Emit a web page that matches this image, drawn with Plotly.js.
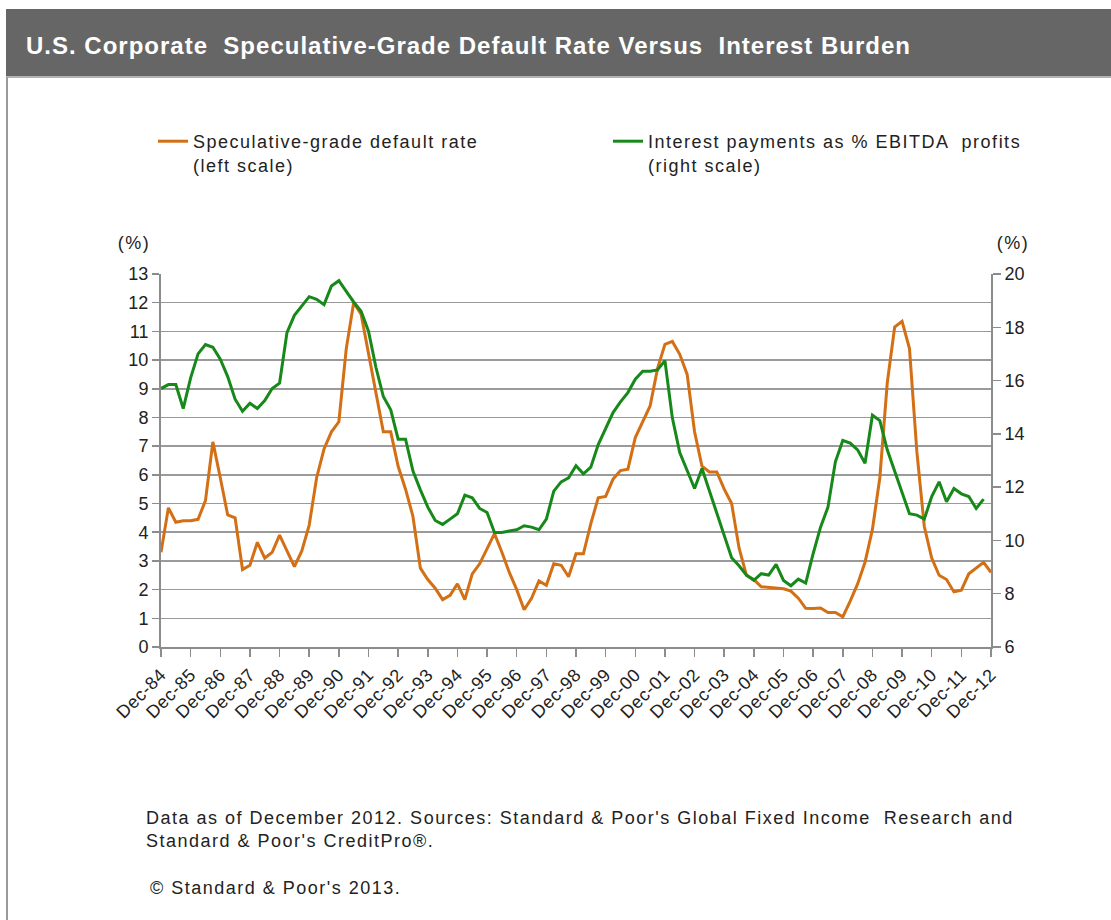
<!DOCTYPE html>
<html>
<head>
<meta charset="utf-8">
<script src="https://cdn.plot.ly/plotly-3.0.1.min.js"></script>
<style>
  html, body { margin: 0; padding: 0; background: #fff; }
  #plot { width: 1111px; height: 920px; }
  /* the source chart is set with loose letter spacing */
  #plot .legendtext, #plot .annotation-text { letter-spacing: 1.5px; }
  #plot .annotation[data-index="0"] .annotation-text { letter-spacing: 1px; }
  #plot .xtick text { letter-spacing: 0.6px; }
</style>
</head>
<body>
<div id="plot"></div>
<script>
  // quarterly observations, Dec-84 .. Dec-12
  const years = ['84','85','86','87','88','89','90','91','92','93','94','95','96','97','98',
                 '99','00','01','02','03','04','05','06','07','08','09','10','11','12'];
  const months = ['Mar', 'Jun', 'Sep', 'Dec'];

  // speculative-grade default rate, % (left scale)
  const defaultRate = [
    3.3, 4.85, 4.35, 4.4, 4.4, 4.45, 5.1, 7.15, 5.9, 4.6,
    4.5, 2.7, 2.85, 3.65, 3.1, 3.3, 3.9, 3.35, 2.8, 3.35,
    4.25, 5.9, 6.9, 7.5, 7.85, 10.4, 12.0, 11.6, 10.2, 8.8,
    7.5, 7.5, 6.3, 5.5, 4.55, 2.75, 2.35, 2.05, 1.65, 1.8,
    2.2, 1.65, 2.55, 2.9, 3.45, 3.95, 3.3, 2.6, 2.0, 1.3,
    1.7, 2.3, 2.15, 2.9, 2.85, 2.45, 3.25, 3.25, 4.3, 5.2,
    5.25, 5.85, 6.15, 6.2, 7.3, 7.85, 8.4, 9.7, 10.55, 10.65,
    10.2, 9.5, 7.5, 6.3, 6.1, 6.1, 5.5, 5.0, 3.45, 2.5,
    2.35, 2.1, 2.07, 2.05, 2.03, 1.95, 1.7, 1.35, 1.34, 1.36,
    1.2, 1.2, 1.05, 1.6, 2.2, 2.95, 4.1, 5.9, 9.2, 11.15,
    11.35, 10.4, 6.8, 4.2, 3.1, 2.5, 2.35, 1.92, 1.98, 2.55,
    2.75, 2.95, 2.6
  ];

  // interest payments as % of EBITDA profits (right scale)
  const interestBurden = [
    15.7, 15.85, 15.85, 14.95, 16.1, 17.0, 17.35, 17.25, 16.8, 16.15,
    15.3, 14.85, 15.15, 14.95, 15.25, 15.7, 15.9, 17.8, 18.45, 18.8,
    19.15, 19.05, 18.85, 19.55, 19.75, 19.35, 18.95, 18.6, 17.85, 16.5,
    15.4, 14.9, 13.8, 13.8, 12.6, 11.9, 11.25, 10.75, 10.6, 10.8,
    11.0, 11.7, 11.6, 11.2, 11.05, 10.3, 10.3, 10.35, 10.4, 10.55,
    10.5, 10.4, 10.8, 11.85, 12.2, 12.35, 12.8, 12.5, 12.75, 13.6,
    14.2, 14.8, 15.2, 15.55, 16.05, 16.35, 16.35, 16.4, 16.75, 14.6,
    13.3, 12.65, 11.95, 12.7, 11.85, 11.0, 10.15, 9.35, 9.05, 8.7,
    8.5, 8.75, 8.7, 9.1, 8.5, 8.3, 8.55, 8.4, 9.5, 10.5,
    11.25, 12.95, 13.75, 13.65, 13.4, 12.9, 14.7, 14.5, 13.4, 12.6,
    11.75, 11.0, 10.95, 10.8, 11.65, 12.2, 11.45, 11.95, 11.75, 11.65,
    11.2, 11.55
  ];

  const quarters = ['Dec-84'];
  years.slice(1).forEach(function(y) {
    months.forEach(function(m) { quarters.push(m + '-' + y); });
  });
  const tickLabels = years.map(function(y) { return 'Dec-' + y; });

  // plot area in page pixels
  const L = 161, R = 991, T = 274, B = 647;
  const xp = (px) => (px - L) / (R - L);
  const yp = (py) => (B - py) / (B - T);

  const font = 'Liberation Sans, Arial, sans-serif';
  const orange = '#D36F14';
  const green = '#17891A';

  const trace1 = {
    x: quarters,
    y: defaultRate,
    name: 'Speculative-grade default rate<br>(left scale)',
    type: 'scatter',
    mode: 'lines',
    line: {color: orange, width: 3},
    hoverinfo: 'skip'
  };

  const trace2 = {
    x: quarters.slice(0, interestBurden.length),
    y: interestBurden,
    name: 'Interest payments as % EBITDA  profits<br>(right scale)',
    type: 'scatter',
    mode: 'lines',
    yaxis: 'y2',
    line: {color: green, width: 3},
    hoverinfo: 'skip'
  };

  const layout = {
    width: 1111,
    height: 920,
    margin: {l: L, r: 1111 - R, t: T, b: 920 - B},
    paper_bgcolor: '#fff',
    plot_bgcolor: '#fff',
    font: {family: font, size: 18, color: '#222'},
    showlegend: true,
    legend: {
      orientation: 'h',
      x: xp(153), xanchor: 'left',
      y: yp(123), yanchor: 'top',
      valign: 'top',
      entrywidth: 410,
      entrywidthmode: 'pixels',
      font: {family: font, size: 18, color: '#222'},
      bgcolor: 'rgba(0,0,0,0)'
    },
    xaxis: {
      type: 'category',
      range: [0, quarters.length - 1],
      tickmode: 'array',
      tickvals: tickLabels,
      ticktext: tickLabels,
      tickangle: -45,
      ticks: 'outside',
      ticklen: 8,
      tickcolor: '#8c8c8c',
      tickwidth: 1.5,
      showline: true,
      linecolor: '#8c8c8c',
      linewidth: 2,
      showgrid: false,
      zeroline: false,
      automargin: false,
      tickfont: {family: font, size: 18, color: '#222'}
    },
    yaxis: {
      range: [0, 13],
      dtick: 1,
      ticks: 'outside',
      ticklen: 7,
      tickcolor: '#8c8c8c',
      tickwidth: 1.5,
      showline: true,
      linecolor: '#8c8c8c',
      linewidth: 2,
      showgrid: true,
      gridcolor: '#9a9a9a',
      gridwidth: 1.5,
      zeroline: false,
      automargin: false,
      tickfont: {family: font, size: 18, color: '#222'}
    },
    yaxis2: {
      range: [6, 20],
      dtick: 2,
      overlaying: 'y',
      side: 'right',
      ticks: 'outside',
      ticklen: 8,
      tickcolor: '#8c8c8c',
      tickwidth: 1.5,
      showline: true,
      linecolor: '#8c8c8c',
      linewidth: 2,
      showgrid: false,
      zeroline: false,
      automargin: false,
      tickfont: {family: font, size: 18, color: '#222'}
    },
    shapes: [
      // title band
      {type: 'rect', xref: 'paper', yref: 'paper', layer: 'below',
       x0: xp(6), x1: xp(1112), y0: yp(76), y1: yp(9),
       fillcolor: '#666666', line: {width: 0}},
      {type: 'line', xref: 'paper', yref: 'paper',
       x0: xp(6), x1: xp(1112), y0: yp(77), y1: yp(77),
       line: {color: '#b4b4b4', width: 2}},
      // left frame
      {type: 'line', xref: 'paper', yref: 'paper',
       x0: xp(7), x1: xp(7), y0: yp(77), y1: yp(921),
       line: {color: '#9a9a9a', width: 2}}
    ],
    annotations: [
      {text: 'U.S. Corporate  Speculative-Grade Default Rate Versus  Interest Burden',
       xref: 'paper', yref: 'paper', x: xp(24), y: yp(45),
       xanchor: 'left', yanchor: 'middle', align: 'left', showarrow: false,
       font: {family: font, size: 24, color: '#fff', weight: 'bold'}},
      {text: '(%)', xref: 'paper', yref: 'paper', x: xp(134), y: yp(243),
       xanchor: 'center', yanchor: 'middle', showarrow: false},
      {text: '(%)', xref: 'paper', yref: 'paper', x: xp(1013), y: yp(243),
       xanchor: 'center', yanchor: 'middle', showarrow: false},
      {text: 'Data as of December 2012. Sources: Standard &amp; Poor\'s Global Fixed Income  Research and<br>Standard &amp; Poor\'s CreditPro®.',
       xref: 'paper', yref: 'paper', x: xp(144), y: yp(806),
       xanchor: 'left', yanchor: 'top', align: 'left', showarrow: false,
       font: {family: font, size: 18, color: '#222'}},
      {text: '© Standard &amp; Poor\'s 2013.',
       xref: 'paper', yref: 'paper', x: xp(148), y: yp(888),
       xanchor: 'left', yanchor: 'middle', align: 'left', showarrow: false,
       font: {family: font, size: 18, color: '#222'}}
    ]
  };

  Plotly.newPlot('plot', [trace1, trace2], layout, {displayModeBar: false, staticPlot: true});
</script>
</body>
</html>
